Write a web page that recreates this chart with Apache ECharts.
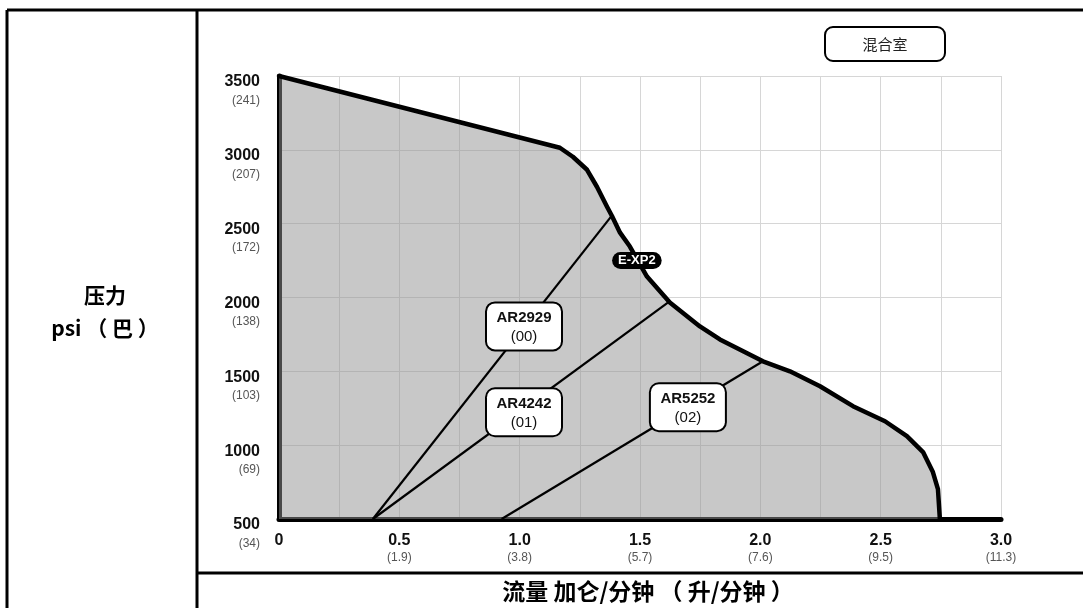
<!DOCTYPE html>
<html><head><meta charset="utf-8">
<script src="https://cdn.jsdelivr.net/npm/echarts@6/dist/echarts.min.js"></script>
<style>html,body{margin:0;padding:0;background:#fff}#c{width:1083px;height:608px}</style>
</head><body><div id="c"></div>
<script>
// ---- data ----
const xTickValues = [0, 0.5, 1.0, 1.5, 2.0, 2.5, 3.0];
const xTickMain = ['0', '0.5', '1.0', '1.5', '2.0', '2.5', '3.0'];
const xTickLiters = ['', '(1.9)', '(3.8)', '(5.7)', '(7.6)', '(9.5)', '(11.3)'];
const yTickValues = [500, 1000, 1500, 2000, 2500, 3000, 3500];
const yTickMain = ['500', '1000', '1500', '2000', '2500', '3000', '3500'];
const yTickBar = ['(34)', '(69)', '(103)', '(138)', '(172)', '(207)', '(241)'];

// E-XP2 envelope (flow gpm, pressure psi)
const envFlow = [0, 1.167, 1.221, 1.28, 1.321, 1.363, 1.383, 1.417, 1.458, 1.529, 1.624, 1.749, 1.832, 2.011, 2.123, 2.248, 2.385, 2.518, 2.609, 2.676, 2.717, 2.738, 2.746];
const envPsi  = [3500, 3014, 2953, 2865, 2750, 2615, 2554, 2439, 2345, 2142, 1966, 1804, 1716, 1568, 1500, 1399, 1264, 1162, 1061, 953, 818, 703, 500];

// mixing chamber boundary lines
const mixNames = ['AR2929', 'AR4242', 'AR5252'];
const mixCodes = ['(00)', '(01)', '(02)'];
const mixStartFlow = [0.39, 0.39, 0.925];
const mixStartPsi  = [500, 500, 500];
const mixEndFlow   = [1.383, 1.62, 2.011];
const mixEndPsi    = [2554, 1970, 1568];
const mixLabelFlow = [1.018, 1.018, 1.699];
const mixLabelPsi  = [1804, 1223, 1257];

const envName = 'E-XP2';
const envLabelFlow = 1.487;
const envLabelPsi = 2250;

const legendTitle = '混合室';
const yTitle1 = '压力';
const yTitle2 = 'psi （ 巴 ）';
const xTitle = '流量 加仑/分钟 （ 升/分钟 ）';

// ---- chart ----
const NUM = "'Liberation Sans Narrow','Liberation Sans',Arial,sans-serif";
const CJK = "'Noto Sans CJK SC','Noto Sans',sans-serif";
const chart = echarts.init(document.getElementById('c'), null, {renderer: 'canvas'});

const envData = envFlow.map((x, i) => [x, envPsi[i]]);
const series = [{
  type: 'line', data: envData, symbol: 'none', smooth: false, z: 3,
  lineStyle: {color: '#000', width: 4.5, join: 'round', cap: 'round'},
  areaStyle: {color: 'rgb(145,145,145)', opacity: 0.5, origin: 'start'}
}];
mixNames.forEach((n, i) => {
  series.push({
    type: 'line', symbol: 'none', z: 4,
    data: [[mixStartFlow[i], mixStartPsi[i]], [mixEndFlow[i], mixEndPsi[i]]],
    lineStyle: {color: '#000', width: 2.2}
  });
});
series.push({
  type: 'scatter', symbolSize: 0, z: 10,
  itemStyle: {opacity: 1},
  data: mixNames.map((n, i) => ({value: [mixLabelFlow[i], mixLabelPsi[i]], name: n, code: mixCodes[i]})),
  label: {
    show: true, position: 'inside',
    formatter: p => '{a|' + p.name + '}\n{b|' + p.data.code + '}',
    backgroundColor: '#fff', borderColor: '#000', borderWidth: 2, borderRadius: 8,
    padding: [5, 0, 3, 0], width: 74, align: 'center',
    rich: {
      a: {fontFamily: NUM, fontSize: 15, fontWeight: 'bold', color: '#111', lineHeight: 19, align: 'center'},
      b: {fontFamily: NUM, fontSize: 15, color: '#111', lineHeight: 19, align: 'center'}
    }
  }
});
series.push({
  type: 'scatter', symbolSize: 0, z: 10,
  itemStyle: {opacity: 1},
  data: [{value: [envLabelFlow, envLabelPsi], name: envName}],
  label: {
    show: true, position: 'inside', formatter: p => p.name,
    backgroundColor: '#000', borderRadius: 9, padding: [2, 6, 1, 6],
    color: '#fff', fontFamily: NUM, fontSize: 13, fontWeight: 'bold', lineHeight: 14
  }
});

const option = {
  animation: false,
  backgroundColor: '#fff',
  grid: {left: 279, right: 82, top: 76, bottom: 89, containLabel: false},
  xAxis: {
    type: 'value', min: 0, max: 3, interval: 0.25,
    axisLine: {show: true, onZero: false, lineStyle: {color: '#000', width: 5}},
    axisTick: {show: false},
    splitLine: {show: true, lineStyle: {color: '#d6d6d6', width: 1}},
    axisLabel: {
      margin: 13, verticalAlign: 'top', showMinLabel: true, showMaxLabel: true,
      formatter: v => {
        const i = xTickValues.findIndex(t => Math.abs(t - v) < 1e-6);
        if (i < 0) return '';
        return xTickLiters[i] ? '{a|' + xTickMain[i] + '}\n{b|' + xTickLiters[i] + '}' : '{a|' + xTickMain[i] + '}';
      },
      rich: {
        a: {fontFamily: NUM, fontSize: 16, fontWeight: 'bold', color: '#111', lineHeight: 17, align: 'center'},
        b: {fontFamily: NUM, fontSize: 12, color: '#555', lineHeight: 18, align: 'center'}
      }
    }
  },
  yAxis: {
    type: 'value', min: 500, max: 3500, interval: 500,
    axisLine: {show: true, lineStyle: {color: '#000', width: 5}},
    axisTick: {show: false},
    splitLine: {show: true, lineStyle: {color: '#d6d6d6', width: 1}},
    axisLabel: {
      margin: 19, verticalAlign: 'top', align: 'right',
      formatter: v => {
        const i = yTickValues.findIndex(t => Math.abs(t - v) < 1e-6);
        if (i < 0) return '';
        return '{a|' + yTickMain[i] + '}\n{b|' + yTickBar[i] + '}';
      },
      rich: {
        a: {fontFamily: NUM, fontSize: 16, fontWeight: 'bold', color: '#111', lineHeight: 12, align: 'right'},
        b: {fontFamily: NUM, fontSize: 12, color: '#555', lineHeight: 25, align: 'right'}
      }
    }
  },
  series: series,
  graphic: [
    {type: 'line', shape: {x1: 7, y1: 10, x2: 1083, y2: 10}, style: {stroke: '#000', lineWidth: 3}},
    {type: 'line', shape: {x1: 7, y1: 10, x2: 7, y2: 608}, style: {stroke: '#000', lineWidth: 3}},
    {type: 'line', shape: {x1: 197, y1: 10, x2: 197, y2: 608}, style: {stroke: '#000', lineWidth: 3}},
    {type: 'line', shape: {x1: 197, y1: 573, x2: 1083, y2: 573}, style: {stroke: '#000', lineWidth: 3}},
    {type: 'rect', shape: {x: 825, y: 27, width: 120, height: 34, r: 8}, style: {fill: '#fff', stroke: '#000', lineWidth: 2}},
    {type: 'text', x: 885, y: 44, style: {text: legendTitle, fill: '#222', font: "15px " + CJK, textAlign: 'center', textVerticalAlign: 'middle'}},
    {type: 'text', x: 105, y: 295, style: {text: yTitle1, fill: '#000', font: "bold 21px " + CJK, textAlign: 'center', textVerticalAlign: 'middle'}},
    {type: 'text', x: 105, y: 328, style: {text: yTitle2, fill: '#000', font: "bold 21px " + CJK, textAlign: 'center', textVerticalAlign: 'middle'}},
    {type: 'text', x: 648, y: 591, style: {text: xTitle, fill: '#000', font: "bold 23px " + CJK, textAlign: 'center', textVerticalAlign: 'middle'}}
  ]
};
chart.setOption(option);
</script>
</body></html>
